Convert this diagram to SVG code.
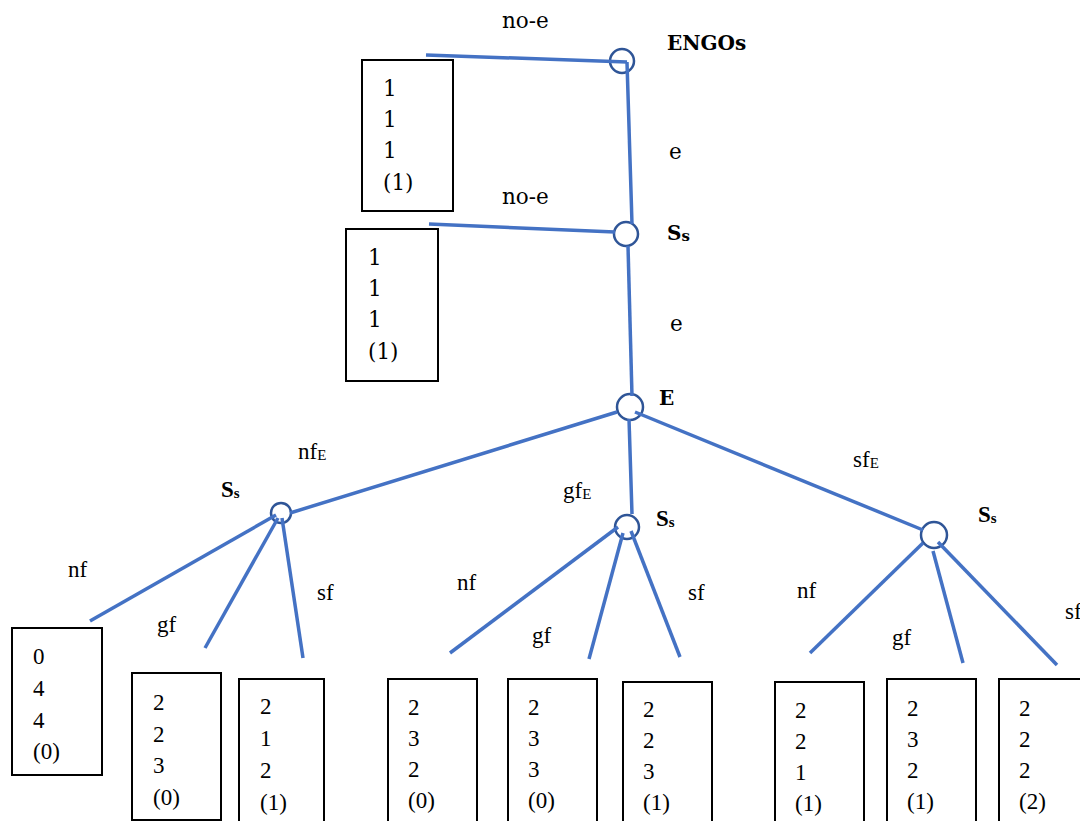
<svg xmlns="http://www.w3.org/2000/svg" width="1080" height="821" viewBox="0 0 1080 821">
<style>
.bg{fill:#ffffff}
.node{fill:#ffffff;stroke:#2F5597;stroke-width:2.5}
.edge{stroke:#4472C4;stroke-width:3.5;fill:none;stroke-linecap:butt}
.box{fill:#ffffff;stroke:#000000;stroke-width:2}
.t1{font-family:"DejaVu Serif","Liberation Serif",serif;font-size:21.5px;fill:#000}
.tb{font-family:"DejaVu Serif","Liberation Serif",serif;font-size:20px;font-weight:bold;fill:#000}
.t2{font-family:"Liberation Serif","Times New Roman",serif;font-size:23px;fill:#000}
.t2b{font-family:"Liberation Serif","Times New Roman",serif;font-size:23px;font-weight:bold;fill:#000}
.sub{font-size:15px}
</style>
<rect class="bg" x="0" y="0" width="1080" height="821"/>

<g id="nodes-circles">
<g id="node-engos"><circle class="node" cx="622" cy="61" r="12"/><text class="tb" x="667" y="50">ENGOs</text></g>
<g id="node-ss1"><circle class="node" cx="626" cy="234" r="12"/><text class="tb" x="667" y="240">S<tspan class="sub" dy="1">s</tspan></text></g>
<g id="node-e"><circle class="node" cx="630" cy="407" r="13"/><text class="tb" x="659" y="405">E</text></g>
<g id="node-ss-left"><circle class="node" cx="281" cy="513" r="10"/><text class="t2b" x="221" y="497">S<tspan class="sub" dy="1">s</tspan></text></g>
<g id="node-ss-mid"><circle class="node" cx="627" cy="527" r="12"/><text class="t2b" x="656" y="526">S<tspan class="sub" dy="1">s</tspan></text></g>
<g id="node-ss-right"><circle class="node" cx="934" cy="535" r="13"/><text class="t2b" x="978" y="522">S<tspan class="sub" dy="1">s</tspan></text></g>
</g>

<g id="connectors">
<line class="edge" x1="426" y1="55" x2="627" y2="62"/>
<line class="edge" x1="627" y1="62" x2="632" y2="224"/>
<line class="edge" x1="429" y1="224" x2="615" y2="232"/>
<line class="edge" x1="628" y1="246" x2="632" y2="396"/>
<line class="edge" x1="617" y1="412" x2="290" y2="513"/>
<line class="edge" x1="629" y1="419" x2="632" y2="514"/>
<line class="edge" x1="635" y1="412" x2="923" y2="530"/>
<line class="edge" x1="276" y1="515" x2="90" y2="621"/>
<line class="edge" x1="278" y1="518" x2="205" y2="648"/>
<line class="edge" x1="282" y1="518" x2="303" y2="658"/>
<line class="edge" x1="618" y1="527" x2="450" y2="653"/>
<line class="edge" x1="623" y1="533" x2="589" y2="659"/>
<line class="edge" x1="631" y1="531" x2="680" y2="657"/>
<line class="edge" x1="923" y1="543" x2="810" y2="653"/>
<line class="edge" x1="933" y1="551" x2="963" y2="663"/>
<line class="edge" x1="938" y1="542" x2="1057" y2="665"/>
</g>

<g id="edge-labels">
<text class="t1" x="502" y="28">no-e</text>
<text class="t1" x="502" y="204">no-e</text>
<text class="t1" x="669" y="159">e</text>
<text class="t1" x="670" y="331">e</text>
<text class="t2" x="298" y="459">nf<tspan class="sub" dy="1">E</tspan></text>
<text class="t2" x="563" y="498">gf<tspan class="sub" dy="1">E</tspan></text>
<text class="t2" x="853" y="467">sf<tspan class="sub" dy="1">E</tspan></text>
<text class="t2" x="68" y="577">nf</text>
<text class="t2" x="157" y="632">gf</text>
<text class="t2" x="317" y="600">sf</text>
<text class="t2" x="457" y="590">nf</text>
<text class="t2" x="532" y="643">gf</text>
<text class="t2" x="688" y="600">sf</text>
<text class="t2" x="797" y="598">nf</text>
<text class="t2" x="892" y="645">gf</text>
<text class="t2" x="1065" y="619">sf</text>
</g>

<g id="payoff-1"><rect class="box" x="362" y="60" width="91" height="151"/>
<text class="t1" x="383" y="96">1</text><text class="t1" x="383" y="127">1</text><text class="t1" x="383" y="158">1</text><text class="t1" x="383" y="190">(1)</text></g>
<g id="payoff-2"><rect class="box" x="346" y="229" width="92" height="152"/>
<text class="t1" x="368" y="265">1</text><text class="t1" x="368" y="296">1</text><text class="t1" x="368" y="327">1</text><text class="t1" x="368" y="359">(1)</text></g>

<g id="payoff-3"><rect class="box" x="12" y="628" width="90" height="147"/>
<text class="t2" x="33" y="664">0</text><text class="t2" x="33" y="696">4</text><text class="t2" x="33" y="728">4</text><text class="t2" x="33" y="759">(0)</text></g>
<g id="payoff-4"><rect class="box" x="132" y="673" width="89" height="147"/>
<text class="t2" x="153" y="710">2</text><text class="t2" x="153" y="742">2</text><text class="t2" x="153" y="773">3</text><text class="t2" x="153" y="805">(0)</text></g>
<g id="payoff-5"><rect class="box" x="239" y="679" width="85" height="150"/>
<text class="t2" x="260" y="714">2</text><text class="t2" x="260" y="746">1</text><text class="t2" x="260" y="778">2</text><text class="t2" x="260" y="810">(1)</text></g>
<g id="payoff-6"><rect class="box" x="388" y="679" width="89" height="150"/>
<text class="t2" x="408" y="715">2</text><text class="t2" x="408" y="746">3</text><text class="t2" x="408" y="777">2</text><text class="t2" x="408" y="808">(0)</text></g>
<g id="payoff-7"><rect class="box" x="508" y="679" width="89" height="150"/>
<text class="t2" x="528" y="715">2</text><text class="t2" x="528" y="746">3</text><text class="t2" x="528" y="777">3</text><text class="t2" x="528" y="808">(0)</text></g>
<g id="payoff-8"><rect class="box" x="623" y="682" width="89" height="150"/>
<text class="t2" x="643" y="717">2</text><text class="t2" x="643" y="748">2</text><text class="t2" x="643" y="779">3</text><text class="t2" x="643" y="810">(1)</text></g>
<g id="payoff-9"><rect class="box" x="775" y="682" width="89" height="150"/>
<text class="t2" x="795" y="718">2</text><text class="t2" x="795" y="749">2</text><text class="t2" x="795" y="780">1</text><text class="t2" x="795" y="811">(1)</text></g>
<g id="payoff-10"><rect class="box" x="887" y="679" width="89" height="150"/>
<text class="t2" x="907" y="716">2</text><text class="t2" x="907" y="747">3</text><text class="t2" x="907" y="778">2</text><text class="t2" x="907" y="809">(1)</text></g>
<g id="payoff-11"><rect class="box" x="999" y="679" width="89" height="150"/>
<text class="t2" x="1019" y="716">2</text><text class="t2" x="1019" y="747">2</text><text class="t2" x="1019" y="778">2</text><text class="t2" x="1019" y="809">(2)</text></g>
</svg>
